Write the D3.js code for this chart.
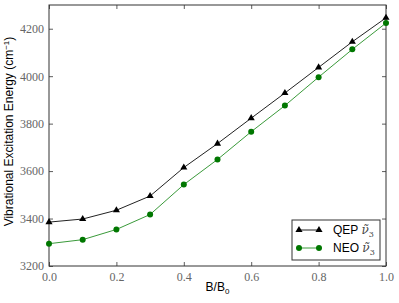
<!DOCTYPE html>
<html>
<head>
<meta charset="utf-8">
<script src="https://cdn.jsdelivr.net/npm/d3@7"></script>
<style>
  body { margin: 0; background: #fff; }
</style>
</head>
<body>
<svg id="chart"></svg>
<script>
// Data
var bRatio = [0.0, 0.1, 0.2, 0.3, 0.4, 0.5, 0.6, 0.7, 0.8, 0.9, 1.0];
var qepValues = [3385, 3398, 3435, 3495, 3615, 3716, 3823, 3929, 4037, 4145, 4246];
var neoValues = [3294, 3311, 3354, 3417, 3543, 3649, 3766, 3876, 3996, 4113, 4224];
var xTicks = [0.0, 0.2, 0.4, 0.6, 0.8, 1.0];
var yTicks = [3200, 3400, 3600, 3800, 4000, 4200];

var width = 399, height = 303;
var margin = { top: 5, right: 13, bottom: 37, left: 49 };
var plotW = width - margin.left - margin.right;
var plotH = height - margin.top - margin.bottom;

var svg = d3.select('#chart')
  .attr('width', width)
  .attr('height', height);

var x = d3.scaleLinear().domain([0, 1]).range([0, plotW]);
var y = d3.scaleLinear().domain([3200, 4300]).range([plotH, 0]);

var g = svg.append('g')
  .attr('transform', 'translate(' + margin.left + ',' + margin.top + ')');

// Axes with inward ticks on all sides
function styleAxis(sel) {
  sel.select('.domain').remove();
  sel.selectAll('.tick line').attr('stroke', '#333').attr('stroke-width', 0.8);
  sel.selectAll('.tick text')
    .attr('font-family', '"Liberation Serif", "DejaVu Serif", serif')
    .attr('font-size', 12)
    .attr('fill', '#666');
}

g.append('g')
  .attr('transform', 'translate(0,' + plotH + ')')
  .call(d3.axisBottom(x).tickValues(xTicks).tickSize(-4).tickPadding(6).tickFormat(d3.format('.1f')))
  .call(styleAxis);

g.append('g')
  .call(d3.axisTop(x).tickValues(xTicks).tickSize(-4).tickFormat(''))
  .call(styleAxis);

g.append('g')
  .call(d3.axisLeft(y).tickValues(yTicks).tickSize(-4).tickPadding(5).tickFormat(d3.format('d')))
  .call(styleAxis);

g.append('g')
  .attr('transform', 'translate(' + plotW + ',0)')
  .call(d3.axisRight(y).tickValues(yTicks).tickSize(-4).tickFormat(''))
  .call(styleAxis);

// Frame
g.append('rect')
  .attr('width', plotW)
  .attr('height', plotH)
  .attr('fill', 'none')
  .attr('stroke', '#333')
  .attr('stroke-width', 1);

var line = d3.line()
  .x(function(d, i) { return x(bRatio[i]); })
  .y(function(d) { return y(d); });

// NEO series
g.append('path')
  .datum(neoValues)
  .attr('d', line)
  .attr('fill', 'none')
  .attr('stroke', '#3a9a3a')
  .attr('stroke-width', 1);

g.selectAll('.neo-pt')
  .data(neoValues)
  .enter()
  .append('circle')
  .attr('class', 'neo-pt')
  .attr('cx', function(d, i) { return x(bRatio[i]); })
  .attr('cy', function(d) { return y(d); })
  .attr('r', 3)
  .attr('fill', '#007700');

// QEP series
g.append('path')
  .datum(qepValues)
  .attr('d', line)
  .attr('fill', 'none')
  .attr('stroke', '#222')
  .attr('stroke-width', 1);

var tri = d3.symbol().type(d3.symbolTriangle).size(22);
g.selectAll('.qep-pt')
  .data(qepValues)
  .enter()
  .append('path')
  .attr('class', 'qep-pt')
  .attr('d', tri)
  .attr('transform', function(d, i) { return 'translate(' + x(bRatio[i]) + ',' + y(d) + ')'; })
  .attr('fill', '#000');

// Axis labels
svg.append('text')
  .attr('x', margin.left + plotW / 2)
  .attr('y', 291)
  .attr('text-anchor', 'middle')
  .attr('font-family', 'Liberation Sans, Arial, sans-serif')
  .attr('font-size', 12)
  .text('B/B')
  .append('tspan')
  .attr('font-size', 8)
  .attr('dy', 3)
  .text('0');

svg.append('text')
  .attr('transform', 'translate(13,' + (margin.top + plotH / 2 - 4) + ') rotate(-90)')
  .attr('text-anchor', 'middle')
  .attr('font-family', 'Liberation Sans, Arial, sans-serif')
  .attr('font-size', 12)
  .text('Vibrational Excitation Energy (cm')
  .call(function(t) {
    t.append('tspan').attr('font-size', 8).attr('dy', -4).text('\u22121');
    t.append('tspan').attr('dy', 4).text(')');
  });

// Legend
var legend = svg.append('g').attr('transform', 'translate(292,220)');
legend.append('rect')
  .attr('width', 88)
  .attr('height', 40)
  .attr('fill', '#fff')
  .attr('stroke', '#333')
  .attr('stroke-width', 1);

var legendItems = [
  { name: 'QEP', color: '#222', marker: 'tri', yOff: 10 },
  { name: 'NEO', color: '#3a9a3a', marker: 'circle', yOff: 28 }
];

legendItems.forEach(function(item) {
  var row = legend.append('g').attr('transform', 'translate(0,' + item.yOff + ')');
  row.append('line')
    .attr('x1', 7).attr('x2', 27)
    .attr('stroke', item.color).attr('stroke-width', 1);
  [7, 27].forEach(function(px) {
    if (item.marker === 'tri') {
      row.append('path').attr('d', tri).attr('transform', 'translate(' + px + ',0)').attr('fill', '#000');
    } else {
      row.append('circle').attr('cx', px).attr('r', 3).attr('fill', '#007700');
    }
  });
  var t = row.append('text')
    .attr('x', 41)
    .attr('y', 4)
    .attr('font-family', 'Liberation Sans, Arial, sans-serif')
    .attr('font-size', 12)
    .text(item.name + ' ');
  t.append('tspan')
    .attr('font-family', 'DejaVu Serif, serif')
    .attr('font-style', 'italic')
    .attr('fill', '#444')
    .text('\u03BD\u0303');
  t.append('tspan')
    .attr('font-family', 'DejaVu Serif, serif')
    .attr('font-size', 8)
    .attr('fill', '#444')
    .attr('dy', 3)
    .text('3');
});
</script>
</body>
</html>
